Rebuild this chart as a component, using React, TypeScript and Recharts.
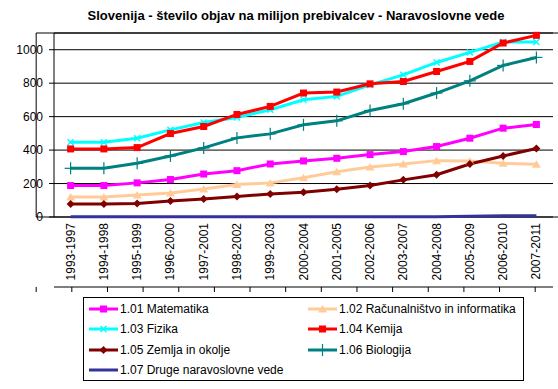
import React from "react";
import {
  CartesianGrid,
  Line,
  LineChart,
  ReferenceArea,
  XAxis,
  YAxis,
} from "recharts";

const periods = [
  "1993-1997", "1994-1998", "1995-1999", "1996-2000", "1997-2001",
  "1998-2002", "1999-2003", "2000-2004", "2001-2005", "2002-2006",
  "2003-2007", "2004-2008", "2005-2009", "2006-2010", "2007-2011",
];

const matematika = [188, 188, 204, 224, 257, 277, 317, 335, 351, 373, 391, 421, 471, 531, 553];
const racunalnistvo = [120, 120, 132, 144, 168, 194, 204, 235, 271, 299, 317, 337, 335, 321, 315];
const fizika = [447, 447, 471, 521, 565, 595, 641, 701, 721, 790, 850, 924, 984, 1046, 1046];
const kemija = [407, 407, 415, 499, 541, 613, 661, 741, 747, 796, 810, 870, 930, 1040, 1086];
const zemlja = [78, 78, 80, 96, 108, 122, 138, 148, 166, 188, 222, 253, 317, 365, 409];
const biologija = [291, 291, 321, 365, 413, 473, 497, 551, 575, 637, 677, 741, 814, 906, 954];
const druge = [2, 2, 2, 2, 2, 2, 2, 2, 2, 2, 2, 2, 4, 8, 8];

const yTicks = [0, 200, 400, 600, 800, 1000];

type Shape = "square" | "triangle" | "x" | "diamond" | "plus" | "none";

const series: { key: string; name: string; color: string; shape: Shape; values: number[] }[] = [
  { key: "mat", name: "1.01 Matematika", color: "#ff00ff", shape: "square", values: matematika },
  { key: "rac", name: "1.02 Računalništvo in informatika", color: "#ffcc99", shape: "triangle", values: racunalnistvo },
  { key: "fiz", name: "1.03 Fizika", color: "#00ffff", shape: "x", values: fizika },
  { key: "kem", name: "1.04 Kemija", color: "#ff0000", shape: "square", values: kemija },
  { key: "zem", name: "1.05 Zemlja in okolje", color: "#800000", shape: "diamond", values: zemlja },
  { key: "bio", name: "1.06 Biologija", color: "#008080", shape: "plus", values: biologija },
  { key: "dru", name: "1.07 Druge naravoslovne vede", color: "#333399", shape: "none", values: druge },
];

const data = periods.map((period, i) => {
  const row: Record<string, string | number> = { period, i };
  series.forEach((s) => (row[s.key] = s.values[i]));
  return row;
});

const edgeTicks = periods.map((_, i) => i - 0.5).concat(periods.length - 0.5);

const font = '"Liberation Sans", Arial, sans-serif';

function Marker({ shape, color, cx, cy }: { shape: Shape; color: string; cx: number; cy: number }) {
  switch (shape) {
    case "square":
      return <rect x={cx - 3.5} y={cy - 3.5} width={7} height={7} fill={color} />;
    case "triangle":
      return <polygon points={`${cx},${cy - 4} ${cx + 4.5},${cy + 3.5} ${cx - 4.5},${cy + 3.5}`} fill={color} />;
    case "diamond":
      return <polygon points={`${cx},${cy - 4} ${cx + 4},${cy} ${cx},${cy + 4} ${cx - 4},${cy}`} fill={color} />;
    case "x":
      return (
        <g stroke={color} strokeWidth={1.5}>
          <line x1={cx - 3} y1={cy - 3} x2={cx + 3} y2={cy + 3} />
          <line x1={cx - 3} y1={cy + 3} x2={cx + 3} y2={cy - 3} />
        </g>
      );
    case "plus":
      return (
        <g stroke={color} strokeWidth={1.2}>
          <line x1={cx} y1={cy - 6} x2={cx} y2={cy + 6} />
          <line x1={cx - 6} y1={cy} x2={cx + 6} y2={cy} />
        </g>
      );
    default:
      return <g />;
  }
}

const makeDot = (shape: Shape, color: string) => (props: any) => {
  const { cx, cy, index } = props;
  return <Marker key={index} shape={shape} color={color} cx={cx} cy={cy} />;
};

const PeriodTick = ({ x, y, payload }: any) => (
  <text
    x={x}
    y={y}
    transform={`rotate(-90, ${x}, ${y})`}
    textAnchor="end"
    dominantBaseline="central"
    fontSize={12}
    fontFamily={font}
    fill="#000"
  >
    {payload.value}
  </text>
);

function LegendBox() {
  return (
    <div
      style={{
        position: "absolute",
        left: 83,
        top: 297,
        width: 441,
        height: 84,
        border: "1px solid #000",
        boxSizing: "border-box",
        padding: "1px 0 0 4px",
        display: "grid",
        gridTemplateColumns: "219px 219px",
        gridAutoRows: "20.3px",
        fontSize: 12,
        fontFamily: font,
        color: "#000",
      }}
    >
      {series.map((s) => (
        <div key={s.key} style={{ display: "flex", alignItems: "center", whiteSpace: "nowrap" }}>
          <svg width={31} height={12} style={{ marginRight: 1 }}>
            <line x1={1} y1={6} x2={30} y2={6} stroke={s.color} strokeWidth={3} />
            <Marker shape={s.shape} color={s.color} cx={15.5} cy={6} />
          </svg>
          <span>{s.name}</span>
        </div>
      ))}
    </div>
  );
}

export default function App() {
  return (
    <div style={{ position: "absolute", left: 0, top: 0, width: 558, height: 389, background: "#fff" }}>
      <div
        style={{
          position: "absolute",
          top: 8,
          left: 0,
          width: 592,
          textAlign: "center",
          fontFamily: font,
          fontWeight: "bold",
          fontSize: 13,
          color: "#000",
        }}
      >
        Slovenija - število objav na milijon prebivalcev - Naravoslovne vede
      </div>
      <LineChart width={558} height={389} data={data} margin={{ top: 33, right: 5, bottom: 97, left: 0 }}>
        <CartesianGrid vertical={false} stroke="#000" strokeWidth={1} />
        <XAxis
          xAxisId="edge"
          type="number"
          domain={[-0.5, periods.length - 0.5]}
          allowDataOverflow
          ticks={edgeTicks}
          tickFormatter={() => ""}
          tickSize={5}
          height={5}
          stroke="#000"
        />
        <XAxis
          xAxisId="cat"
          dataKey="period"
          type="category"
          interval={0}
          padding={{ left: 16.6, right: 16.6 }}
          tick={<PeriodTick />}
          tickLine={false}
          axisLine={false}
          tickSize={0}
          tickMargin={6}
          height={70}
        />
        <YAxis
          domain={[0, 1100]}
          ticks={yTicks}
          tickSize={5}
          tickMargin={6}
          width={54}
          stroke="#000"
          tick={{ fill: "#000", fontSize: 12, fontFamily: font }}
        />
        <ReferenceArea
          xAxisId="edge"
          x1={-0.5}
          x2={periods.length - 0.5}
          y1={0}
          y2={1100}
          fill="none"
          stroke="#000"
          strokeWidth={1}
          ifOverflow="visible"
        />
        {series.map((s) => (
          <Line
            key={s.key}
            xAxisId="cat"
            type="linear"
            dataKey={s.key}
            name={s.name}
            stroke={s.color}
            strokeWidth={3}
            dot={makeDot(s.shape, s.color)}
            activeDot={false}
            isAnimationActive={false}
          />
        ))}
      </LineChart>
      <LegendBox />
    </div>
  );
}
